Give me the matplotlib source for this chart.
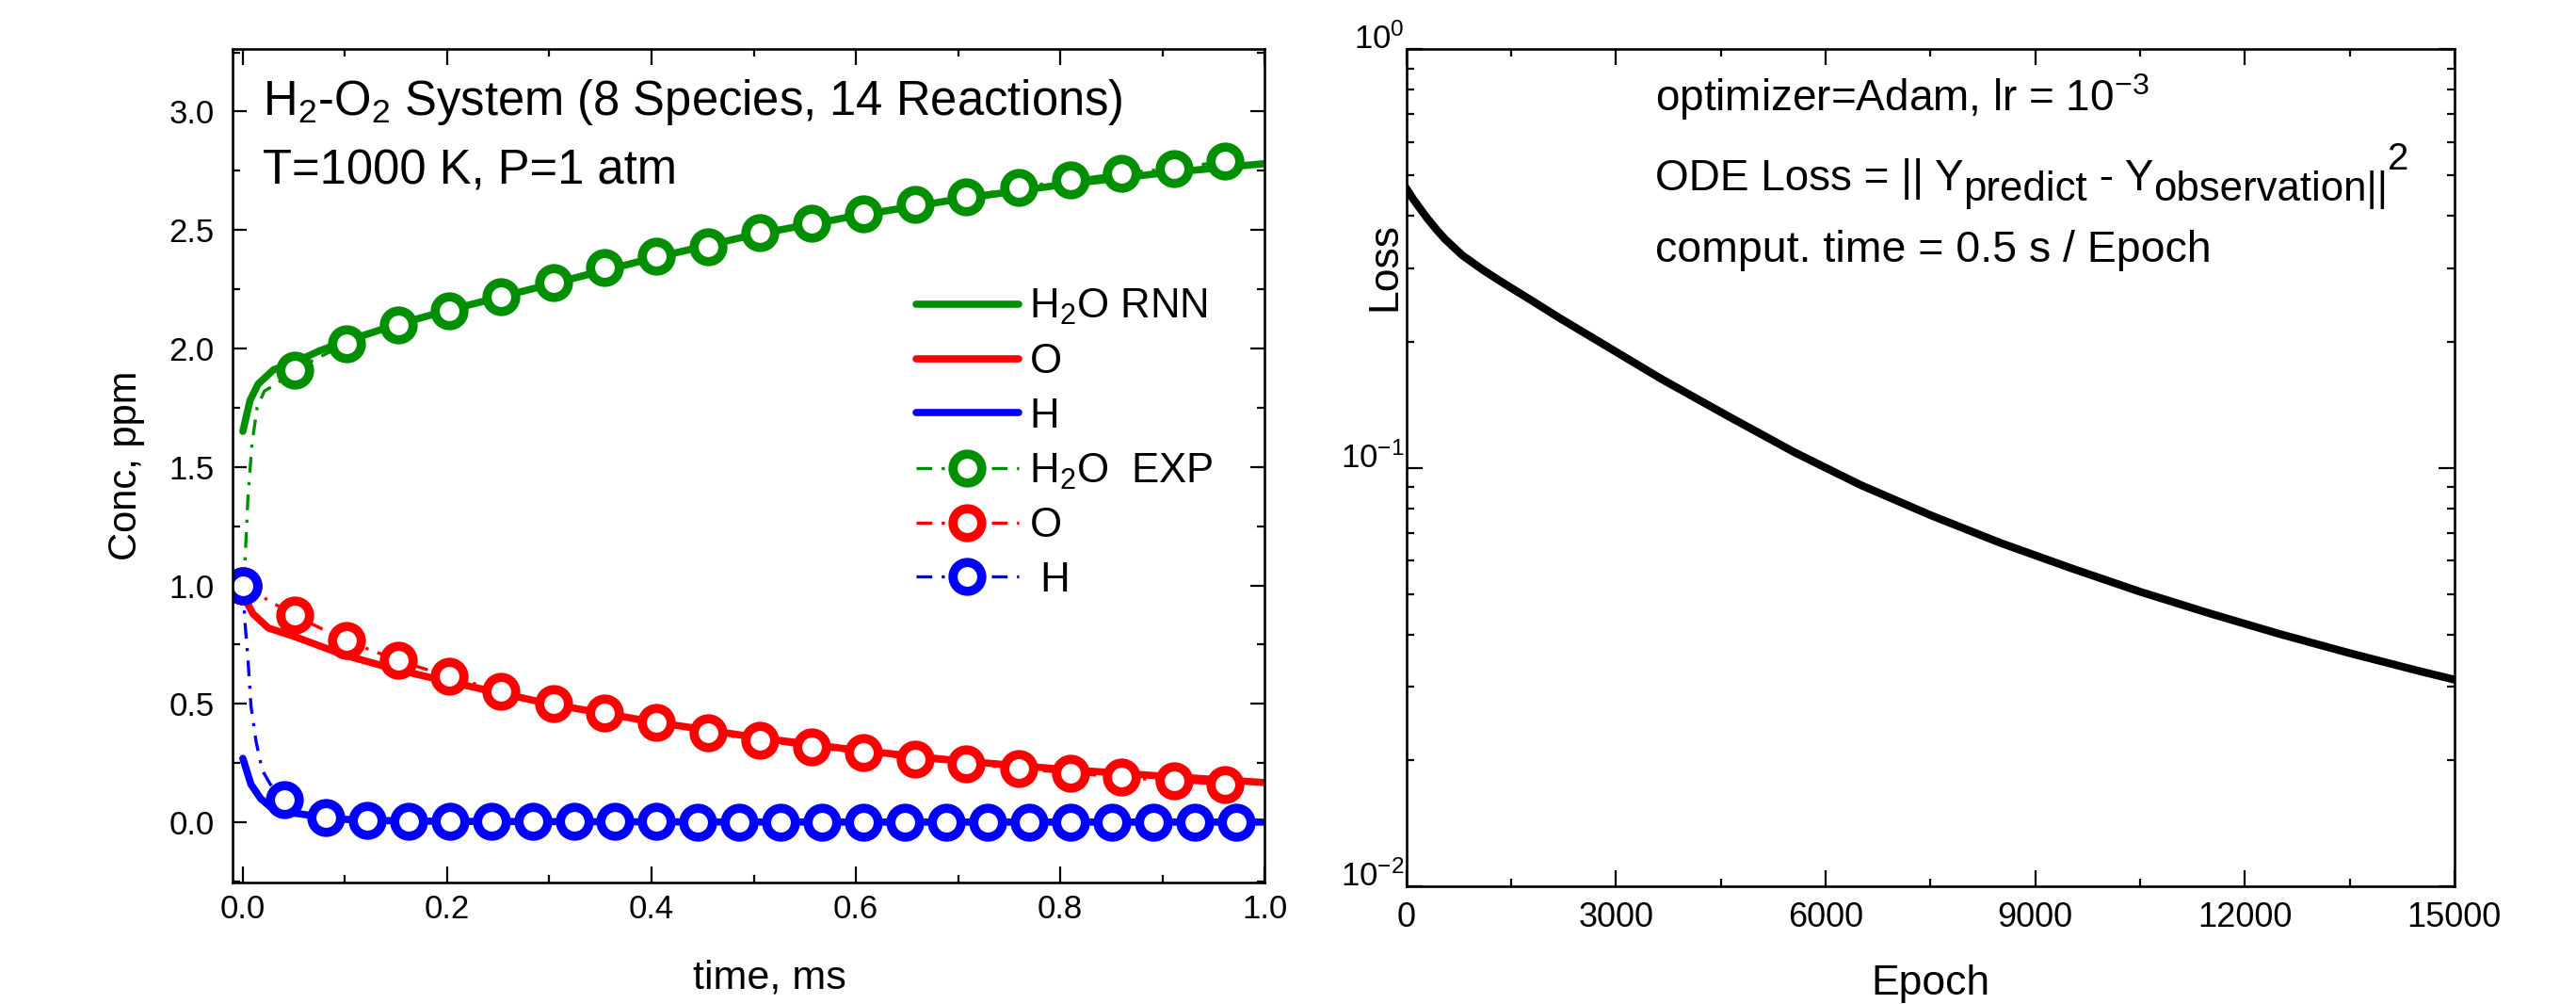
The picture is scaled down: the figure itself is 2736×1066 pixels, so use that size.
import numpy as np
import matplotlib
matplotlib.use('Agg')
import matplotlib.pyplot as plt
from matplotlib.ticker import MultipleLocator, FormatStrFormatter, LogLocator, NullFormatter
from matplotlib.transforms import offset_copy

plt.rcParams['font.family'] = ['Liberation Sans', 'DejaVu Sans']
plt.rcParams['mathtext.fontset'] = 'custom'
plt.rcParams['mathtext.rm'] = 'Liberation Sans'
plt.rcParams['mathtext.it'] = 'Liberation Sans:italic'
plt.rcParams['mathtext.bf'] = 'Liberation Sans:bold'
plt.rcParams['mathtext.default'] = 'regular'

# ---- left panel: concentration vs time (ms) ----
# RNN predictions (solid lines)
t_rnn_h2o = [0.0, 0.007, 0.015, 0.03, 0.05, 0.075, 0.1, 0.15, 0.2, 0.3, 0.4, 0.5, 0.6, 0.7, 0.8, 0.9, 1.0]
c_rnn_h2o = [1.65, 1.78, 1.85, 1.91, 1.94, 1.99, 2.03, 2.10, 2.16, 2.27, 2.38, 2.48, 2.56, 2.63, 2.69, 2.74, 2.78]
t_rnn_o = [0.0, 0.01, 0.025, 0.05, 0.1, 0.15, 0.2, 0.3, 0.4, 0.5, 0.6, 0.7, 0.8, 0.9, 1.0]
c_rnn_o = [0.96, 0.88, 0.82, 0.785, 0.705, 0.645, 0.595, 0.50, 0.425, 0.36, 0.305, 0.26, 0.225, 0.195, 0.168]
t_rnn_h = [0.0, 0.008, 0.0175, 0.027, 0.039, 0.057, 0.068, 0.09, 0.12, 0.2, 0.4, 0.6, 0.8, 1.0]
c_rnn_h = [0.27, 0.16, 0.10, 0.065, 0.045, 0.035, 0.028, 0.015, 0.008, 0.004, 0.002, 0.001, 0.001, 0.001]

# "experimental" samples (open circles)
t_exp_ho = [0.0, 0.0506, 0.101, 0.152, 0.202, 0.253, 0.304, 0.354, 0.405, 0.455,
            0.506, 0.557, 0.607, 0.658, 0.708, 0.759, 0.810, 0.860, 0.911, 0.961]
c_exp_h2o = [1.0, 1.91, 2.02, 2.10, 2.16, 2.22, 2.28, 2.34, 2.39, 2.43,
             2.49, 2.53, 2.57, 2.61, 2.64, 2.68, 2.71, 2.74, 2.76, 2.79]
c_exp_o = [1.0, 0.873, 0.767, 0.683, 0.615, 0.554, 0.50, 0.463, 0.42, 0.38,
           0.346, 0.317, 0.293, 0.268, 0.248, 0.227, 0.208, 0.191, 0.174, 0.16]
t_exp_h = [0.0, 0.0405, 0.081, 0.1215, 0.162, 0.2025, 0.243, 0.2835, 0.324, 0.3645,
           0.405, 0.4455, 0.486, 0.5265, 0.567, 0.6075, 0.648, 0.6885, 0.729, 0.7695,
           0.81, 0.8505, 0.891, 0.9315, 0.972]
c_exp_h = [1.0, 0.094, 0.02, 0.01, 0.006, 0.005, 0.004, 0.004, 0.003, 0.003,
           0.003, 0.002, 0.002, 0.002, 0.002, 0.002, 0.002, 0.002, 0.002, 0.002,
           0.002, 0.002, 0.002, 0.002, 0.002]
# extra points on the dash-dot curves between the first two samples
t_mid_h2o = [0.002, 0.005, 0.009, 0.014, 0.021, 0.033]
c_mid_h2o = [1.09, 1.37, 1.60, 1.75, 1.82, 1.85]
t_mid_h = [0.002, 0.005, 0.008, 0.013, 0.019, 0.027]
c_mid_h = [0.85, 0.69, 0.49, 0.34, 0.22, 0.16]

# ---- right panel: training loss ----
epoch = [0, 100, 200, 300, 425, 550, 800, 1100, 1400, 1750, 2200, 2700, 3650, 4600, 5550,
         6500, 7500, 8500, 9500, 10500, 11500, 12500, 13500, 14500, 15000]
loss = [0.464, 0.4375, 0.415, 0.394, 0.3715, 0.352, 0.3218, 0.2965, 0.2754, 0.2535, 0.2275,
        0.2028, 0.163, 0.133, 0.109, 0.0910, 0.0771, 0.0662, 0.0577, 0.0506, 0.0449,
        0.0401, 0.0361, 0.0327, 0.0312]

GREEN = '#008f00'
RED = '#ff0000'
BLUE = '#0000ff'


def exp_curve(t_mark, c_mark, t_extra=(), c_extra=()):
    t = np.concatenate([t_mark, t_extra])
    c = np.concatenate([c_mark, c_extra])
    order = np.argsort(t, kind='stable')
    marks = np.flatnonzero(order < len(t_mark))
    return t[order], c[order], list(marks)


def style_axes(ax):
    for s in ax.spines.values():
        s.set_linewidth(1.9)
    ax.tick_params(which='both', direction='in', top=True, right=True, width=1.6)
    ax.tick_params(which='major', length=12)
    ax.tick_params(which='minor', length=6)


def text_run(ax, x, y, pieces):
    # pieces: (text, fontsize, vertical shift in pixels), laid out left to right
    renderer = fig.canvas.get_renderer()
    dx = 0.0
    for s, size, dy in pieces:
        tr = offset_copy(ax.transAxes, fig=fig, x=dx, y=dy, units='dots')
        t = ax.text(x, y, s, transform=tr, fontsize=size, va='baseline', ha='left')
        dx += t.get_window_extent(renderer).width


fig = plt.figure(figsize=(27.36, 10.66), dpi=100)
ax1 = fig.add_axes([0.0903, 0.121, 0.4006, 0.830])
ax2 = fig.add_axes([0.546, 0.117, 0.4068, 0.834])

# left panel
ax1.plot(t_rnn_h2o, c_rnn_h2o, color=GREEN, lw=5.5, solid_capstyle='round', label='H$_2$O RNN')
ax1.plot(t_rnn_o, c_rnn_o, color=RED, lw=5.5, solid_capstyle='round', label='O')
ax1.plot(t_rnn_h, c_rnn_h, color=BLUE, lw=5.5, solid_capstyle='round', label='H')

dash = (0, (5, 3, 1, 3))
mk = dict(marker='o', ms=22, mew=7, mfc='white', lw=2.4, linestyle=dash)
t, c, m = exp_curve(t_exp_ho, c_exp_h2o, t_mid_h2o, c_mid_h2o)
ax1.plot(t, c, color=GREEN, mec=GREEN, markevery=m, label='H$_2$O  EXP', **mk)
t, c, m = exp_curve(t_exp_ho, c_exp_o)
ax1.plot(t, c, color=RED, mec=RED, markevery=m, label='O', **mk)
t, c, m = exp_curve(t_exp_h, c_exp_h, t_mid_h, c_mid_h)
ax1.plot(t, c, color=BLUE, mec=BLUE, markevery=m, label=' H', **mk)

ax1.set_xlim(-0.01, 1.0)
ax1.set_ylim(-0.254, 3.263)
ax1.xaxis.set_major_locator(MultipleLocator(0.2))
ax1.xaxis.set_minor_locator(MultipleLocator(0.1))
ax1.yaxis.set_major_locator(MultipleLocator(0.5))
ax1.yaxis.set_minor_locator(MultipleLocator(0.25))
ax1.xaxis.set_major_formatter(FormatStrFormatter('%.1f'))
ax1.yaxis.set_major_formatter(FormatStrFormatter('%.1f'))
style_axes(ax1)
ax1.tick_params(axis='y', which='major', length=11)
ax1.tick_params(axis='x', labelsize=25, pad=8.5)
ax1.tick_params(axis='y', labelsize=25, pad=14)

ax1.set_xlabel('time, ms', fontsize=31)
ax1.set_ylabel('Conc, ppm', fontsize=30)
ax1.xaxis.set_label_coords(0.52, -0.092)
ax1.yaxis.set_label_coords(-0.085, 0.5)

ax1.text(0.029, 0.921, 'H$_2$-O$_2$ System (8 Species, 14 Reactions)', transform=ax1.transAxes,
         fontsize=36.5, va='baseline', ha='left')
ax1.text(0.029, 0.838, 'T=1000 K, P=1 atm', transform=ax1.transAxes,
         fontsize=36.5, va='baseline', ha='left')

ax1.legend(loc='upper left', bbox_to_anchor=(0.662, 0.714), frameon=False, fontsize=31.5,
           borderpad=0, borderaxespad=0, handlelength=2.49, handletextpad=0.27,
           labelspacing=0.38, numpoints=1)

# right panel
ax2.plot(epoch, loss, color='black', lw=6)
ax2.set_yscale('log')
ax2.set_xlim(0, 15000)
ax2.set_ylim(1e-2, 1)
ax2.xaxis.set_major_locator(MultipleLocator(3000))
ax2.xaxis.set_minor_locator(MultipleLocator(1500))
ax2.set_yticks([1e-2, 1e-1, 1])
ax2.yaxis.set_minor_locator(LogLocator(base=10, subs=np.arange(2, 10)))
ax2.yaxis.set_minor_formatter(NullFormatter())
style_axes(ax2)
ax2.tick_params(axis='x', labelsize=26, pad=11.5)
ax2.tick_params(axis='y', labelsize=25, pad=1.5)
for lab in ax2.get_yticklabels():
    lab.set_verticalalignment('baseline')

ax2.set_xlabel('Epoch', fontsize=32)
ax2.set_ylabel('Loss', fontsize=32)
ax2.xaxis.set_label_coords(0.5, -0.093)
ax2.yaxis.set_label_coords(-0.002, 0.74)

ax2.text(0.237, 0.926, 'optimizer=Adam, lr = 10$^{-3}$', transform=ax2.transAxes,
         fontsize=33, va='baseline', ha='left')
text_run(ax2, 0.237, 0.831, [('ODE Loss = || Y', 33, 0), ('predict', 31.5, -11),
                             (' - Y', 33, 0), ('observation||', 31.5, -11), ('2', 29, 22)])
ax2.text(0.237, 0.746, 'comput. time = 0.5 s / Epoch', transform=ax2.transAxes,
         fontsize=33.5, va='baseline', ha='left')

fig.savefig('out.png', dpi=100)
